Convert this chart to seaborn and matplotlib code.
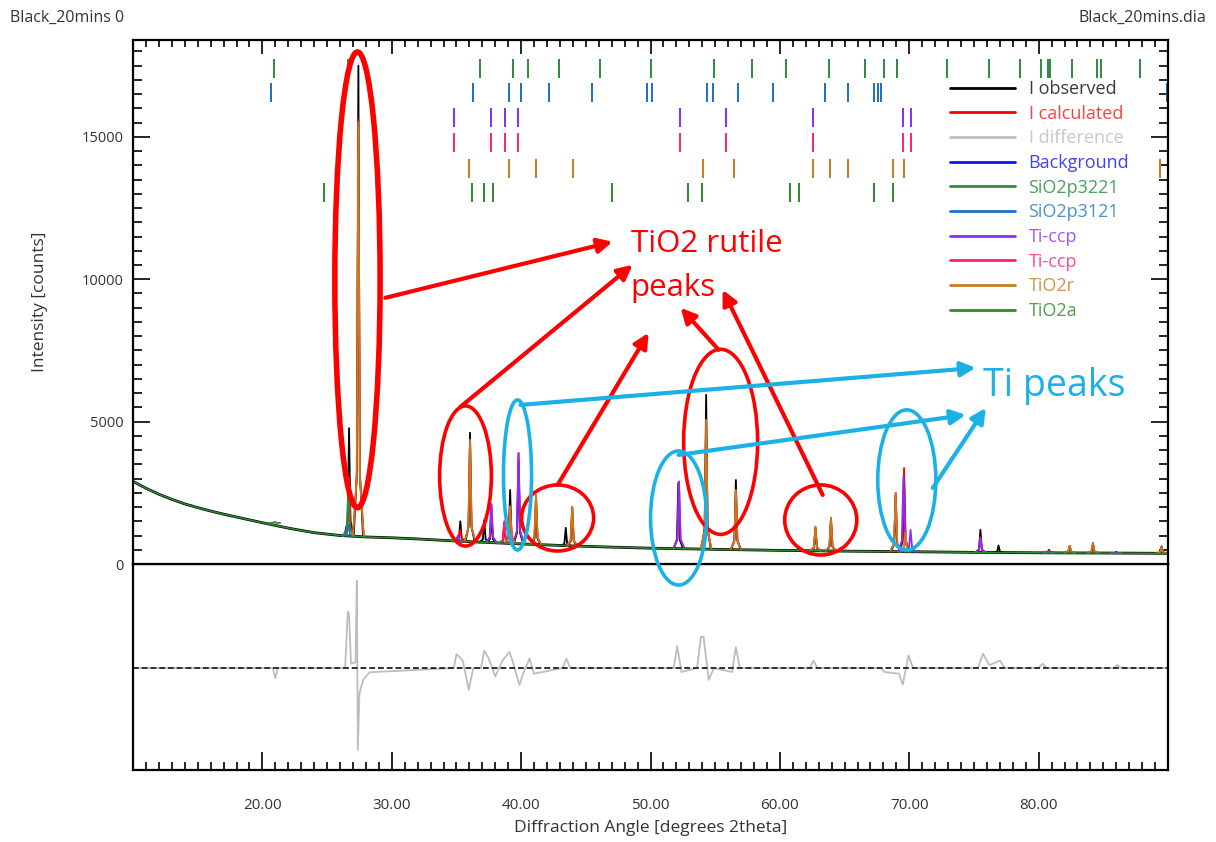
import numpy as np
import pandas as pd
import matplotlib.pyplot as plt
import seaborn as sns
from matplotlib.lines import Line2D
from matplotlib.patches import Ellipse
from matplotlib.ticker import MultipleLocator, FuncFormatter

# ---- data ----
# background (shared base of every curve)
bg_x = [10, 11, 12, 13, 14, 15, 16, 17, 18, 20, 22, 24, 26, 28, 30, 32, 34, 36, 38,
        40, 42, 44, 46, 48, 50, 52, 55, 60, 65, 70, 75, 80, 85, 90]
bg_y = [2900, 2660, 2450, 2270, 2110, 1980, 1860, 1750, 1650, 1450, 1260, 1100, 1000,
        950, 920, 880, 830, 785, 745, 705, 670, 635, 605, 580, 555, 540, 515, 478,
        452, 432, 408, 393, 385, 375]

# observed peaks: position, top, local foot level
obs_pos = [26.7, 27.42, 35.3, 36.05, 37.15, 37.7, 38.7, 39.15, 39.8, 41.15, 43.45, 43.95,
           52.15, 54.3, 56.6, 62.75, 63.95, 68.95, 69.6, 75.5, 76.9, 80.8, 82.4, 84.2,
           86.0, 89.5]
obs_top = [4770, 17500, 1500, 4610, 1550, 1700, 1400, 2600, 3600, 2300, 1270, 1950,
           2850, 5940, 2950, 1250, 1580, 2400, 2950, 1200, 650, 500, 620, 700, 420, 620]
obs_foot = [983, 965, 800, 782, 755, 742, 728, 720, 705, 680, 630, 628, 540, 520, 505,
            463, 455, 435, 432, 408, 404, 393, 390, 386, 383, 376]

calc_pos = [26.7, 27.42, 35.3, 36.05, 37.7, 38.7, 39.15, 39.8, 41.15, 43.95, 52.2, 54.3,
            56.6, 62.75, 63.95, 68.95, 69.6, 75.5, 80.8, 82.4, 84.2, 89.5]
calc_top = [3050, 15600, 1200, 4360, 2100, 1500, 2050, 3900, 2420, 2010, 2900, 5060,
            2600, 1310, 1620, 2500, 3370, 950, 470, 640, 740, 600]
calc_foot = [983, 965, 800, 782, 742, 728, 720, 705, 680, 628, 540, 520, 505, 463, 455,
             435, 432, 408, 393, 390, 386, 376]

sio2a_pos = [20.95, 26.65]
sio2a_top = [1480, 2800]
sio2a_foot = [1440, 985]

sio2b_pos = [26.65]
sio2b_top = [1400]
sio2b_foot = [985]

tiA_pos = [35.1, 37.7, 39.8, 52.2, 69.55, 70.1, 75.5, 80.8, 86.0]
tiA_top = [1000, 2100, 3890, 2880, 3070, 1200, 920, 470, 400]
tiA_foot = [805, 742, 705, 540, 432, 430, 408, 393, 383]

tiB_pos = [38.7]
tiB_top = [1440]
tiB_foot = [728]

rut_pos = [27.42, 36.05, 39.15, 41.15, 43.95, 54.3, 56.6, 62.75, 63.95, 68.95, 69.7,
           82.4, 84.2, 89.5]
rut_top = [15500, 4360, 2010, 2420, 2010, 5060, 2600, 1310, 1615, 2500, 1100, 640, 740, 600]
rut_foot = [965, 782, 720, 680, 628, 520, 505, 463, 455, 435, 432, 390, 386, 376]

# difference curve (obs - calc)
diff_x = [10, 20.8, 21.0, 21.2, 26.4, 26.6, 26.7, 26.85, 27.2, 27.3, 27.38, 27.5, 27.8,
          28.3, 34.8, 35.0, 35.2, 35.5, 35.95, 36.3, 36.9, 37.15, 37.5, 38.0, 38.56,
          39.09, 39.3, 39.87, 40.2, 40.65, 41.0, 43.2, 43.5, 43.8, 51.8, 52.06, 52.4,
          53.6, 53.9, 54.1, 54.5, 54.9, 56.3, 56.6, 56.9, 62.3, 62.6, 62.9, 67.8, 68.1,
          69.2, 69.5, 69.94, 70.3, 75.3, 75.7, 76.2, 77.0, 77.4, 80.0, 80.3, 80.6, 85.8,
          86.1, 86.4, 90]
diff_y = [0, 0, -360, 0, 0, 1980, 1900, 150, 200, 3070, -2880, -900, -400, -150, 0, 490,
          400, 250, -770, 0, 0, 610, 330, -300, 260, 560, 300, -600, -140, 330, -200, 0,
          330, 0, 0, 770, -140, 0, 1100, 1100, -420, 0, -140, 730, 0, 0, 260, 0, 0, -140,
          -200, -580, 440, 0, 0, 500, 100, 260, 0, 0, 150, 0, 0, 100, 0, 0]

# reflection marker positions per phase
ticks_sio2a = [20.9, 26.6, 36.85, 39.35, 40.55, 42.9, 46.1, 50.05, 54.9, 57.85, 60.45,
               63.8, 66.55, 68.05, 69.05, 72.9, 76.15, 78.55, 80.15, 80.7, 80.9, 82.55,
               84.55, 84.85, 87.8]
ticks_sio2b = [20.7, 26.4, 36.25, 39.1, 40.0, 42.15, 45.5, 49.7, 50.1, 54.4, 54.8, 56.75,
               59.5, 63.5, 65.25, 67.25, 67.55, 67.8, 89.95]
ticks_ti = [34.8, 37.65, 38.75, 39.75, 52.25, 55.85, 62.55, 69.5, 70.1]
ticks_rut = [27.4, 36.0, 39.1, 41.15, 44.0, 54.05, 56.45, 62.55, 63.85, 65.25, 68.75,
             69.6, 89.4]
ticks_ana = [24.8, 36.2, 37.1, 37.8, 47.0, 52.9, 54.0, 60.8, 61.45, 67.3, 68.75]

labels = ['I observed', 'I calculated', 'I difference', 'Background', 'SiO2p3221',
          'SiO2p3121', 'Ti-ccp', 'Ti-ccp', 'TiO2r', 'TiO2a']
line_colors = ['#000000', '#FF0000', '#C0C0C0', '#1010FF', '#2E8B40', '#1E6FC5',
               '#8A2BFF', '#FF1F78', '#C87A20', '#2E8B2E']
text_colors = ['#3A3A3A', '#FF4040', '#C8C8C8', '#4040FF', '#4C9F5E', '#4A90D0',
               '#A255FF', '#FF4A8F', '#D0954A', '#4C9F4C']


def peak_frame(name, pos, top, foot, w=0.42):
    # each peak drawn as a narrow profile sitting on its foot level
    rows = []
    for i, (p, t, f) in enumerate(zip(pos, top, foot)):
        for dx, frac in zip([-w, -0.3 * w, 0, 0.3 * w, w], [0, 0.14, 1, 0.14, 0]):
            rows.append({'curve': name, 'unit': i, 'angle': p + dx,
                         'counts': f + frac * (t - f)})
    return pd.DataFrame(rows)


sns.set_theme(style='white')
plt.rcParams['font.family'] = ['Open Sans', 'DejaVu Sans']

fig = plt.figure(figsize=(12.16, 8.42), dpi=100)
ax = fig.add_axes([133 / 1216, 1 - 564 / 842, 1035 / 1216, 524 / 842])
axd = fig.add_axes([133 / 1216, 1 - 770 / 842, 1035 / 1216, 206 / 842], sharex=ax)
ax.set_zorder(3)  # annotations may spill into the difference panel

bg = pd.DataFrame({'angle': bg_x, 'counts': bg_y})

# observed baseline + peaks
sns.lineplot(data=bg, x='angle', y='counts', color='black', lw=2.0, ax=ax)
sns.lineplot(data=peak_frame('obs', obs_pos, obs_top, obs_foot, w=0.36), x='angle',
             y='counts', units='unit', estimator=None, color='black', lw=1.3, ax=ax)
# calculated
sns.lineplot(data=peak_frame('calc', calc_pos, calc_top, calc_foot), x='angle',
             y='counts', units='unit', estimator=None, color='#FF0000', lw=1.3, ax=ax)
# phases
phases = [(sio2a_pos, sio2a_top, sio2a_foot, line_colors[4]),
          (sio2b_pos, sio2b_top, sio2b_foot, line_colors[5]),
          (tiA_pos, tiA_top, tiA_foot, line_colors[6]),
          (tiB_pos, tiB_top, tiB_foot, line_colors[7]),
          (rut_pos, rut_top, rut_foot, line_colors[8])]
for pos, top, foot, col in phases:
    sns.lineplot(data=peak_frame('ph', pos, top, foot), x='angle', y='counts',
                 units='unit', estimator=None, color=col, lw=1.3, ax=ax)
sns.lineplot(data=bg, x='angle', y='counts', color=line_colors[9], lw=1.1, ax=ax)

# reflection markers
rows_y = [17410, 16570, 15670, 14810, 13900, 13040]
for ticks, yc, col in zip([ticks_sio2a, ticks_sio2b, ticks_ti, ticks_ti, ticks_rut, ticks_ana],
                          rows_y, [line_colors[4], line_colors[5], line_colors[6],
                                   line_colors[7], line_colors[8], line_colors[9]]):
    ax.vlines(ticks, yc - 330, yc + 330, color=col, lw=1.4)

# difference panel
sns.lineplot(x=diff_x, y=diff_y, color='#BDBDBD', lw=1.3, ax=axd)
axd.axhline(0, color='#303030', lw=1.4, ls=(0, (3, 1.5)))

# axes styling
for a in (ax, axd):
    for s in a.spines.values():
        s.set_color('black')
        s.set_linewidth(1.6)
ax.set_xlim(10, 90)
ax.set_ylim(0, 18400)
axd.set_ylim(-3584, 3654)
ax.xaxis.set_major_locator(MultipleLocator(10))
ax.xaxis.set_minor_locator(MultipleLocator(1))
ax.yaxis.set_major_locator(MultipleLocator(5000))
ax.yaxis.set_minor_locator(MultipleLocator(500))
ax.tick_params(axis='x', which='both', direction='in', top=True, bottom=False,
               labeltop=False, labelbottom=False, color='black', width=1.2)
ax.tick_params(axis='x', which='major', length=10)
ax.tick_params(axis='x', which='minor', length=5)
ax.tick_params(axis='y', which='both', direction='in', left=True, right=True,
               color='black', width=1.2, labelsize=10.5, pad=7, labelcolor='#333333')
ax.tick_params(axis='y', which='major', length=12)
ax.tick_params(axis='y', which='minor', length=6.5)
axd.tick_params(axis='x', which='both', direction='in', bottom=True, top=False,
                color='black', width=1.2, labelsize=11, pad=20, labelcolor='#333333')
axd.tick_params(axis='x', which='major', length=13)
axd.tick_params(axis='x', which='minor', length=6)
axd.tick_params(axis='y', left=False, labelleft=False)
axd.xaxis.set_major_formatter(FuncFormatter(lambda v, p: '' if v <= 10 or v >= 90 else f'{v:.2f}'))
ax.set_xlabel('')
ax.set_ylabel('Intensity [counts]', fontsize=12.5, color='#333333', labelpad=24)
axd.set_ylabel('')
axd.set_xlabel('Diffraction Angle [degrees 2theta]', fontsize=12.5, color='#333333',
               labelpad=5)

# legend
handles = [Line2D([], [], color=c, lw=2) for c in line_colors]
leg = ax.legend(handles, labels, loc='upper left', bbox_to_anchor=(950 / 1216, 1 - 80 / 842),
                bbox_transform=fig.transFigure, frameon=False, fontsize=13,
                handlelength=3.6, handletextpad=0.75, labelspacing=0.37, borderpad=0,
                borderaxespad=0)
for t, c in zip(leg.get_texts(), text_colors):
    t.set_color(c)

# header texts
fig.text(10 / 1216, 1 - 18 / 842, 'Black_20mins 0', ha='left', va='center',
         fontsize=11.5, color='#333333')
fig.text(1 - 10 / 1216, 1 - 18 / 842, 'Black_20mins.dia', ha='right', va='center',
         fontsize=11.5, color='#333333')

# hand-drawn style annotations
red, sky = '#FF0000', '#1BB1E7'
for (cx, cy, w, h, col, lw) in [(27.35, 9980, 3.5, 16000, red, 4.0),
                                (35.7, 3090, 4.0, 4920, red, 2.6),
                                (42.82, 1616, 5.57, 2320, red, 2.6),
                                (55.42, 4290, 5.72, 6500, red, 2.6),
                                (63.16, 1546, 5.57, 2460, red, 2.6),
                                (39.72, 3127, 2.17, 5270, sky, 2.6),
                                (52.17, 1616, 4.33, 4708, sky, 2.6),
                                (69.81, 2952, 4.49, 4920, sky, 2.6)]:
    ax.add_patch(Ellipse((cx, cy), w, h, fill=False, edgecolor=col, lw=lw,
                         clip_on=False, zorder=10))

for tail, head, col in [((29.51, 9347), (47.07, 11315), red),
                        ((35.31, 5517), (48.62, 10507), red),
                        ((42.82, 2776), (49.85, 8117), red),
                        ((55.27, 7520), (52.33, 8996), red),
                        ((63.31, 2425), (55.58, 9628), red),
                        ((39.95, 5587), (75.14, 6887), sky),
                        ((52.17, 3830), (74.37, 5236), sky),
                        ((71.82, 2671), (75.92, 5482), sky)]:
    ax.annotate('', xy=head, xytext=tail, annotation_clip=False, zorder=11,
                arrowprops=dict(arrowstyle='-|>', color=col, lw=3,
                                mutation_scale=22, shrinkA=0, shrinkB=0))

ax.text(48.46, 10964, 'TiO2 rutile', color=red, fontsize=22.5, ha='left', va='baseline',
        zorder=12)
ax.text(48.46, 9418, 'peaks', color=red, fontsize=22.5, ha='left', va='baseline', zorder=12)
ax.text(75.68, 5904, 'Ti peaks', color=sky, fontsize=27, ha='left', va='baseline',
        zorder=12)

fig.savefig('out.png', dpi=100, facecolor='white')
plt.close(fig)
